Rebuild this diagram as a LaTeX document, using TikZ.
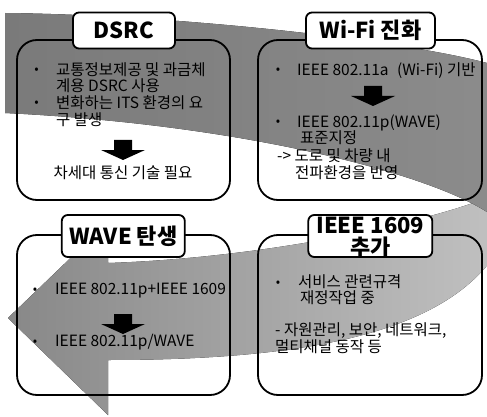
\documentclass[tikz,border=0pt]{standalone}
\usepackage{fontspec}
\setmainfont{Noto Sans CJK KR}
\definecolor{frontL}{HTML}{7A7A7A}
\definecolor{frontR}{HTML}{8E8E8E}
\definecolor{backL}{HTML}{888888}
\definecolor{backR}{HTML}{C8C8C8}
\tikzset{
  cbox/.style={draw, line width=1.8pt, rounded corners=20pt, inner sep=0pt},
  tbox/.style={draw, fill=white, line width=1.8pt, rounded corners=6pt, inner sep=0pt},
  ttl/.style={anchor=base, inner sep=0pt, font=\fontsize{22}{24}\selectfont\bfseries},
  txt/.style={anchor=base west, inner sep=0pt, font=\fontsize{15.5}{17}\selectfont},
  ctxt/.style={anchor=base, inner sep=0pt, font=\fontsize{15.5}{17}\selectfont},
  bul/.style={anchor=base, inner sep=0pt, font=\fontsize{13}{15}\selectfont},
  downarrow/.pic={\fill (-9,0) -- (9,0) -- (9,10) -- (22,10) -- (0,20) -- (-22,10) -- (-9,10) -- cycle;}
}
\begin{document}
\begin{tikzpicture}[x=1pt, y=-1pt]
\useasboundingbox (0,0) rectangle (487,417);
\fill[white] (0,0) rectangle (487,417);

% the circular ribbon arrow behind the boxes
\begin{scope}
  \clip (0,0) rectangle (487,417);
  % returning (back) part of the ribbon, ending in the arrow head
  \fill[left color=backL, right color=backR]
    (8,318) -- (108,222) -- (108,263)
    .. controls (260,258) and (420,225) .. (495,195)
    -- (560,195) -- (560,255) -- (495,255)
    .. controls (440,335) and (300,360) .. (108,360)
    -- (108,415) -- cycle;
  % front part of the ribbon, sweeping right and turning down
  \fill[left color=frontL, right color=frontR]
    (5,13) .. controls (180,15) and (400,40) .. (487,63)
    -- (560,80) -- (560,215) -- (487,212)
    .. controls (430,175) and (250,125) .. (5,113) -- cycle;
\end{scope}

% content boxes
\node[cbox, minimum width=213pt, minimum height=160pt] (b1) at (123.5,120) {};
\node[cbox, minimum width=224pt, minimum height=160pt] (b2) at (370,120) {};
\node[cbox, minimum width=213pt, minimum height=160pt] (b3) at (123.5,315) {};
\node[cbox, minimum width=224pt, minimum height=160pt] (b4) at (370,315) {};

% title boxes
\node[tbox, minimum width=102pt, minimum height=36pt] (t1) at (124,30.5) {};
\node[tbox, minimum width=129pt, minimum height=36pt] (t2) at (370.5,30.5) {};
\node[tbox, minimum width=123pt, minimum height=42pt] (t3) at (123.3,236) {};
\node[tbox, minimum width=124pt, minimum height=42pt] (t4) at (370.3,236) {};

\node[ttl] (t1a) at (124,38.5) {DSRC};
\node[ttl] (t2a) at (370.5,38.5) {Wi-Fi 진화};
\node[ttl] (t3a) at (123.3,244) {WAVE 탄생};
\node[ttl] (t4a) at (370.3,233) {IEEE 1609};
\node[ttl] (t4b) at (370.3,255) {추가};

% DSRC
\node[bul] (d0) at (36.7,74) {•};
\node[txt] (d1) at (56,75.5) {교통정보제공 및 과금체};
\node[txt] (d2) at (56,91.5) {계용 DSRC 사용};
\node[bul] (d3) at (36.7,107) {•};
\node[txt] (d4) at (56,108.5) {변화하는 ITS 환경의 요};
\node[txt] (d5) at (56,125.5) {구 발생};
\pic (a1) at (123,140) {downarrow};
\node[ctxt] (d6) at (123,178.5) {차세대 통신 기술 필요};

% Wi-Fi
\node[bul] (w0) at (278,74) {•};
\node[txt] (w1) at (297,75.5) {IEEE 802.11a\hspace{5pt} (Wi-Fi) 기반};
\pic (a2) at (373,86) {downarrow};
\node[bul] (w2) at (278,126) {•};
\node[txt] (w3) at (297,127.5) {IEEE 802.11p(WAVE)};
\node[txt] (w4) at (300,143.5) {표준지정};
\node[txt] (w5) at (277,161.5) {-> 도로 및 차량 내};
\node[txt] (w6) at (295,178.5) {전파환경을 반영};

% WAVE
\node[bul] (v0) at (35,293) {•};
\node[txt] (v1) at (55,294.5) {IEEE 802.11p+IEEE 1609};
\pic (a3) at (123,314) {downarrow};
\node[bul] (v2) at (35,345) {•};
\node[txt] (v3) at (55,346.5) {IEEE 802.11p/WAVE};

% IEEE 1609
\node[bul] (i0) at (278,286) {•};
\node[txt] (i1) at (298,287.5) {서비스 관련규격};
\node[txt] (i2) at (300,303.5) {재정작업 중};
\node[txt] (i3) at (275,335.5) {- 자원관리, 보안, 네트워크,};
\node[txt] (i4) at (275,352.5) {멀티채널 동작 등};
\end{tikzpicture}
\end{document}
